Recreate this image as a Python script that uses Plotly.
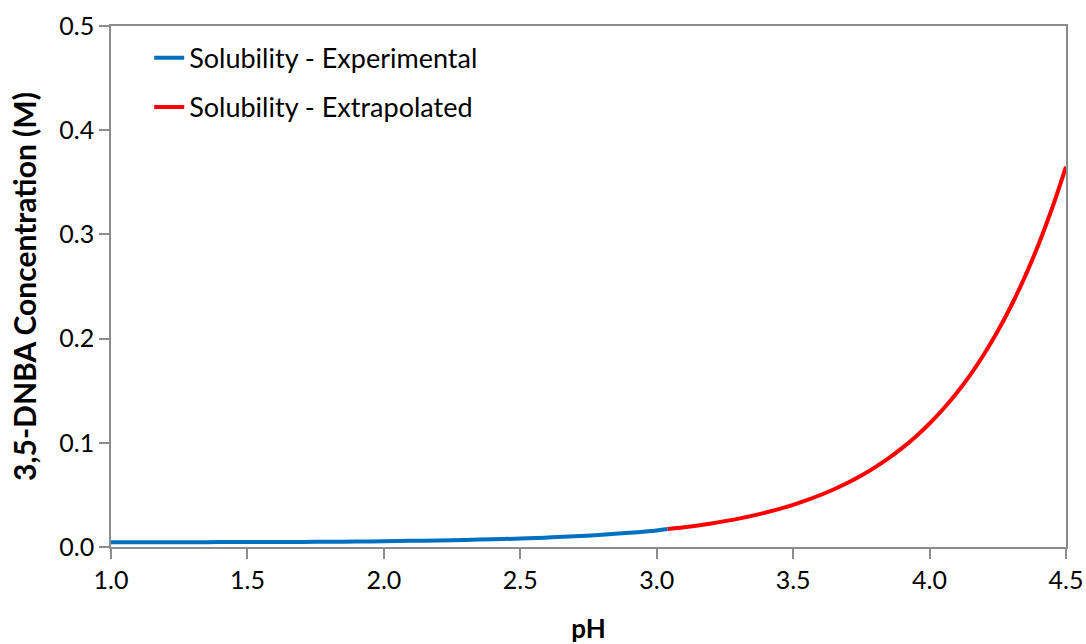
import plotly.graph_objects as go

# Solubility of 3,5-DNBA vs pH
ph_experimental = [1.0, 1.1, 1.2, 1.3, 1.4, 1.5, 1.6, 1.7, 1.8, 1.9, 2.0,
                   2.1, 2.2, 2.3, 2.4, 2.5, 2.6, 2.7, 2.8, 2.9, 3.0, 3.04]
conc_experimental = [0.0046, 0.0046, 0.0046, 0.0046, 0.0047, 0.0047, 0.0048,
                     0.0049, 0.0050, 0.0052, 0.0056, 0.0059, 0.0063, 0.0068,
                     0.0074, 0.0081, 0.0091, 0.0103, 0.0117, 0.0136, 0.0159,
                     0.0172]

ph_extrapolated = [3.04, 3.1, 3.2, 3.3, 3.4, 3.5, 3.55, 3.6, 3.65, 3.7, 3.75,
                   3.8, 3.85, 3.9, 3.95, 4.0, 4.05, 4.1, 4.15, 4.2, 4.25,
                   4.3, 4.35, 4.4, 4.45, 4.5]
conc_extrapolated = [0.0172, 0.0189, 0.0226, 0.0272, 0.0331, 0.0405, 0.0450,
                     0.0499, 0.0554, 0.0616, 0.0686, 0.0764, 0.0852, 0.0951,
                     0.1061, 0.1185, 0.1324, 0.1480, 0.1655, 0.1852, 0.2072,
                     0.2320, 0.2597, 0.2908, 0.3258, 0.3650]

x_ticks = [1.0, 1.5, 2.0, 2.5, 3.0, 3.5, 4.0, 4.5]
y_ticks = [0.0, 0.1, 0.2, 0.3, 0.4, 0.5]

FONT = "Lato, Open Sans, sans-serif"

fig = go.Figure()
fig.add_trace(go.Scatter(
    x=ph_experimental, y=conc_experimental, mode="lines",
    name="Solubility - Experimental", legendgroup="exp",
    line=dict(color="#0070C0", width=4, shape="spline"),
))
fig.add_trace(go.Scatter(
    x=ph_extrapolated, y=conc_extrapolated, mode="lines",
    name="Solubility - Extrapolated", legendgroup="ext",
    line=dict(color="#FF0000", width=4, shape="spline"),
))

axis_common = dict(
    showgrid=False, zeroline=False, automargin=False,
    showline=True, linecolor="#8C8C8C", linewidth=1.5, mirror=True,
    ticks="outside", ticklen=10, tickcolor="#8C8C8C", tickwidth=1.5,
    tickfont=dict(family=FONT, size=25, color="#000000"),
)

fig.update_xaxes(
    range=[1.0, 4.5], tickvals=x_ticks,
    ticktext=[f"{v:.1f}" for v in x_ticks],
    title=dict(text="<b>pH</b>", font=dict(family=FONT, size=26, color="#000000"),
               standoff=29),
    **axis_common,
)
fig.update_yaxes(
    range=[0.0, 0.5], tickvals=y_ticks,
    ticktext=[f"{v:.1f}" for v in y_ticks],
    title=dict(text="<b>3,5-DNBA Concentration (M)</b>",
               font=dict(family=FONT, size=30, color="#000000"), standoff=14),
    **axis_common,
)

fig.update_layout(
    width=1086, height=644,
    margin=dict(l=111, r=20, t=26, b=97),
    paper_bgcolor="white", plot_bgcolor="white",
    font=dict(family=FONT, color="#000000"),
    legend=dict(
        x=0.04, y=0.985, xanchor="left", yanchor="top",
        font=dict(family=FONT, size=27, color="#000000"),
        traceorder="grouped", tracegroupgap=11,
        bgcolor="rgba(0,0,0,0)",
    ),
)

fig.write_html("out.html")
